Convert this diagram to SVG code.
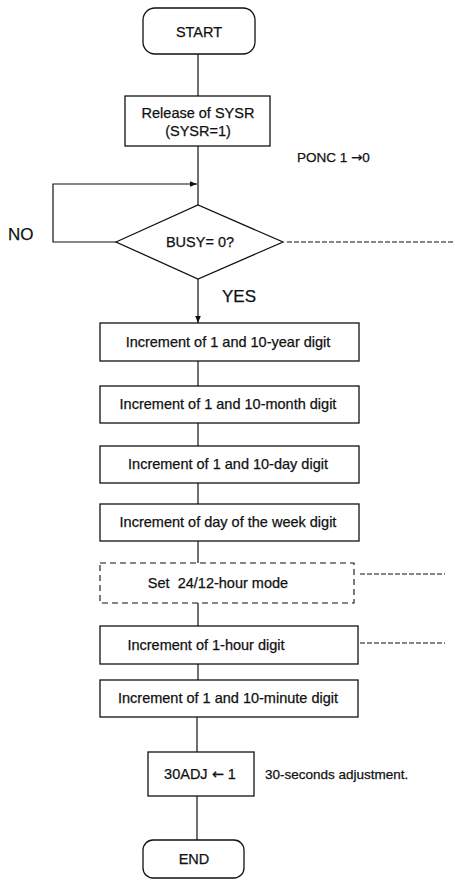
<svg xmlns="http://www.w3.org/2000/svg" width="455" height="887" viewBox="0 0 455 887">
<defs>
<marker id="arr" viewBox="0 0 10 10" refX="10" refY="5" markerWidth="7" markerHeight="7" orient="auto" markerUnits="userSpaceOnUse"><path d="M0,1 L10,5 L0,9 Z" fill="#111"/></marker>
</defs>
<style>
.b{fill:#fff;stroke:#111;stroke-width:1.3}
.d{fill:#fff;stroke:#111;stroke-width:1.1;stroke-dasharray:6,4}
.l{fill:none;stroke:#111;stroke-width:1.2}
.dl{fill:none;stroke:#111;stroke-width:1.1;stroke-dasharray:5,2}
text{font-family:"Liberation Sans",Arial,sans-serif;fill:#111;stroke:#111;stroke-width:0.25}
.t{font-size:14.5px;text-anchor:middle}
.s{font-size:13.5px}
.y{font-size:17px}
.a{font-family:"DejaVu Sans",sans-serif}
</style>
<rect width="455" height="887" fill="#fff"/>
<g id="connectors">
<line class="l" x1="198" y1="54" x2="198" y2="96"/>
<line class="l" x1="198" y1="146" x2="198" y2="205"/>
<polyline class="l" points="116,242 53,242 53,184 197,184" marker-end="url(#arr)"/>
<line class="dl" x1="287" y1="242" x2="455" y2="242"/>
<line class="l" x1="198" y1="279" x2="198" y2="323" marker-end="url(#arr)"/>
<line class="l" x1="198" y1="361" x2="198" y2="386"/>
<line class="l" x1="198" y1="423" x2="198" y2="446"/>
<line class="l" x1="198" y1="483" x2="198" y2="504"/>
<line class="l" x1="198" y1="541" x2="198" y2="563"/>
<line class="l" x1="198" y1="603" x2="198" y2="626"/>
<line class="l" x1="198" y1="664" x2="198" y2="680"/>
<line class="l" x1="197" y1="717" x2="197" y2="752"/>
<line class="l" x1="197" y1="796" x2="197" y2="840"/>
<line class="dl" x1="360" y1="574" x2="445" y2="574"/>
<line class="dl" x1="360" y1="643" x2="445" y2="643"/>
</g>
<g id="start"><rect class="b" x="143" y="8" width="112" height="46" rx="12"/><text class="t" x="199" y="37">START</text></g>
<g id="release"><rect class="b" x="125" y="96" width="145" height="50"/><text class="t" x="198" y="118">Release of SYSR</text><text class="t" x="198" y="136">(SYSR=1)</text></g>
<g id="ponc"><text class="s" x="297" y="162">PONC 1 <tspan class="a">→</tspan>0</text></g>
<g id="busy"><polygon class="b" points="116,242 198,205 283,242 198,279"/><text class="t" x="200" y="247">BUSY= 0?</text></g>
<text class="y" x="8" y="240">NO</text>
<text class="y" x="222" y="302">YES</text>
<g id="year"><rect class="b" x="100" y="323" width="259" height="38"/><text class="t" x="228" y="347">Increment of 1 and 10-year digit</text></g>
<g id="month"><rect class="b" x="100" y="386" width="259" height="37"/><text class="t" x="228" y="409">Increment of 1 and 10-month digit</text></g>
<g id="day"><rect class="b" x="100" y="446" width="259" height="37"/><text class="t" x="228" y="469">Increment of 1 and 10-day digit</text></g>
<g id="week"><rect class="b" x="100" y="504" width="259" height="37"/><text class="t" x="228" y="527">Increment of day of the week digit</text></g>
<g id="mode"><rect class="d" x="100" y="563" width="254" height="40"/><text class="t" x="218" y="588" xml:space="preserve">Set  24/12-hour mode</text></g>
<g id="hour"><rect class="b" x="100" y="626" width="258" height="38"/><text class="t" x="206" y="650">Increment of 1-hour digit</text></g>
<g id="minute"><rect class="b" x="100" y="680" width="258" height="37"/><text class="t" x="228" y="703">Increment of 1 and 10-minute digit</text></g>
<g id="adj"><rect class="b" x="148" y="752" width="106" height="44"/><text class="t" x="200" y="779">30ADJ <tspan class="a">←</tspan> 1</text></g>
<text class="s" x="265" y="779">30-seconds adjustment.</text>
<g id="end"><rect class="b" x="143" y="840" width="101" height="38" rx="10"/><text class="t" x="194" y="864">END</text></g>
</svg>
